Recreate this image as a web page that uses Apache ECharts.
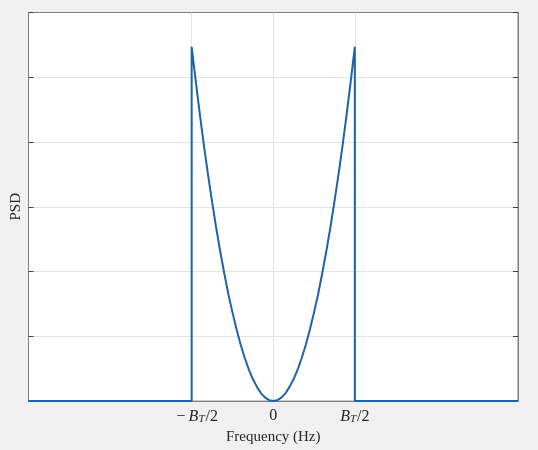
<!DOCTYPE html>
<html>
<head>
<meta charset="utf-8">
<script src="https://cdn.jsdelivr.net/npm/echarts@6/dist/echarts.min.js"></script>
<style>
html,body{margin:0;padding:0;background:#f0f0f0;}
#c{width:538px;height:450px;}
</style>
</head>
<body>
<div id="c"></div>
<script>
// Frequency in units of B_T/2; PSD in grid units
const freqLeftFlat = [-3, -1, -1];
const psdLeftFlat = [0, 0, 5.47];
const freqBand = [-1, -0.95, -0.9, -0.85, -0.8, -0.75, -0.7, -0.65, -0.6, -0.55, -0.5, -0.45, -0.4, -0.35, -0.3, -0.25, -0.2, -0.15, -0.1, -0.05, 0,
                  0.05, 0.1, 0.15, 0.2, 0.25, 0.3, 0.35, 0.4, 0.45, 0.5, 0.55, 0.6, 0.65, 0.7, 0.75, 0.8, 0.85, 0.9, 0.95, 1];
const psdBand = [5.47, 4.94, 4.43, 3.95, 3.50, 3.08, 2.68, 2.31, 1.97, 1.65, 1.37, 1.11, 0.875, 0.67, 0.49, 0.34, 0.22, 0.12, 0.055, 0.014, 0,
                 0.014, 0.055, 0.12, 0.22, 0.34, 0.49, 0.67, 0.875, 1.11, 1.37, 1.65, 1.97, 2.31, 2.68, 3.08, 3.50, 3.95, 4.43, 4.94, 5.47];
const freqRightFlat = [1, 1, 3];
const psdRightFlat = [5.47, 0, 0];
const xTickValues = [-1, 0, 1];
const xTickLabels = ['{n|\u2212\u2009}{i|B}{s|T}{m|/2}', '{m|0}', '{i|B}{s|T}{m|/2}'];
const xAxisTitle = 'Frequency (Hz)';
const yAxisTitle = 'PSD';

const pts = [];
freqLeftFlat.forEach((f, i) => pts.push([f, psdLeftFlat[i]]));
freqBand.forEach((f, i) => pts.push([f, psdBand[i]]));
freqRightFlat.forEach((f, i) => pts.push([f, psdRightFlat[i]]));

const serif = 'Liberation Serif';
const txt = '#262626';
const axisGray = '#808080';
const gridGray = '#e3e3e3';
const tickCol = '#404040';
const rich = {
  n: {fontFamily: serif, fontSize: 16, color: txt, padding: [0, 0, 0, 11]},
  m: {fontFamily: serif, fontSize: 16, color: txt},
  i: {fontFamily: serif, fontSize: 16, fontStyle: 'italic', color: txt},
  s: {fontFamily: serif, fontSize: 11, fontStyle: 'italic', color: txt, padding: [6, 1, 0, 0]}
};

const chart = echarts.init(document.getElementById('c'), null, {renderer: 'canvas'});
chart.setOption({
  backgroundColor: '#f0f0f0',
  animation: false,
  grid: {left: 28.5, right: 20, top: 12.5, bottom: 47.5, show: true, backgroundColor: '#ffffff', borderColor: axisGray, borderWidth: 1, containLabel: false},
  xAxis: [{
    type: 'value', min: -3, max: 3, interval: 1,
    axisLine: {show: true, onZero: false, lineStyle: {color: axisGray}},
    axisTick: {show: true, inside: true, length: 5, customValues: xTickValues, lineStyle: {color: tickCol}},
    axisLabel: {
      customValues: xTickValues, margin: 7, rich: rich,
      formatter: v => { const k = xTickValues.indexOf(v); return k >= 0 ? xTickLabels[k] : ''; }
    },
    splitLine: {show: false},
    name: xAxisTitle, nameLocation: 'middle', nameGap: 26,
    nameTextStyle: {fontFamily: serif, fontSize: 15, color: txt}
  }, {
    type: 'value', position: 'top', min: -3, max: 3, interval: 1,
    axisLine: {show: true, onZero: false, lineStyle: {color: axisGray}},
    axisTick: {show: true, inside: true, length: 5, customValues: xTickValues, lineStyle: {color: tickCol}},
    axisLabel: {show: false}, splitLine: {show: false}
  }],
  yAxis: [{
    type: 'value', position: 'left', min: 0, max: 6, interval: 1,
    axisLine: {show: true, onZero: false, lineStyle: {color: axisGray}},
    axisTick: {show: true, inside: true, length: 5, lineStyle: {color: tickCol}},
    axisLabel: {show: false},
    splitLine: {show: true, lineStyle: {color: gridGray, width: 1}},
    name: yAxisTitle, nameLocation: 'middle', nameGap: 5, nameRotate: 90,
    nameTextStyle: {fontFamily: serif, fontSize: 15, color: txt}
  }, {
    type: 'value', position: 'right', min: 0, max: 6, interval: 1,
    axisLine: {show: true, onZero: false, lineStyle: {color: axisGray}},
    axisTick: {show: true, inside: true, length: 5, lineStyle: {color: tickCol}},
    axisLabel: {show: false}, splitLine: {show: false}
  }],
  series: [{
    type: 'line', data: pts, showSymbol: false, symbol: 'none',
    lineStyle: {color: '#1c63a8', width: 2},
    z: 5,
    markLine: {
      silent: true, symbol: ['none', 'none'], label: {show: false},
      lineStyle: {color: gridGray, width: 1, type: 'solid'},
      z: 1,
      data: xTickValues.map(v => ({xAxis: v}))
    }
  }]
});
</script>
</body>
</html>
